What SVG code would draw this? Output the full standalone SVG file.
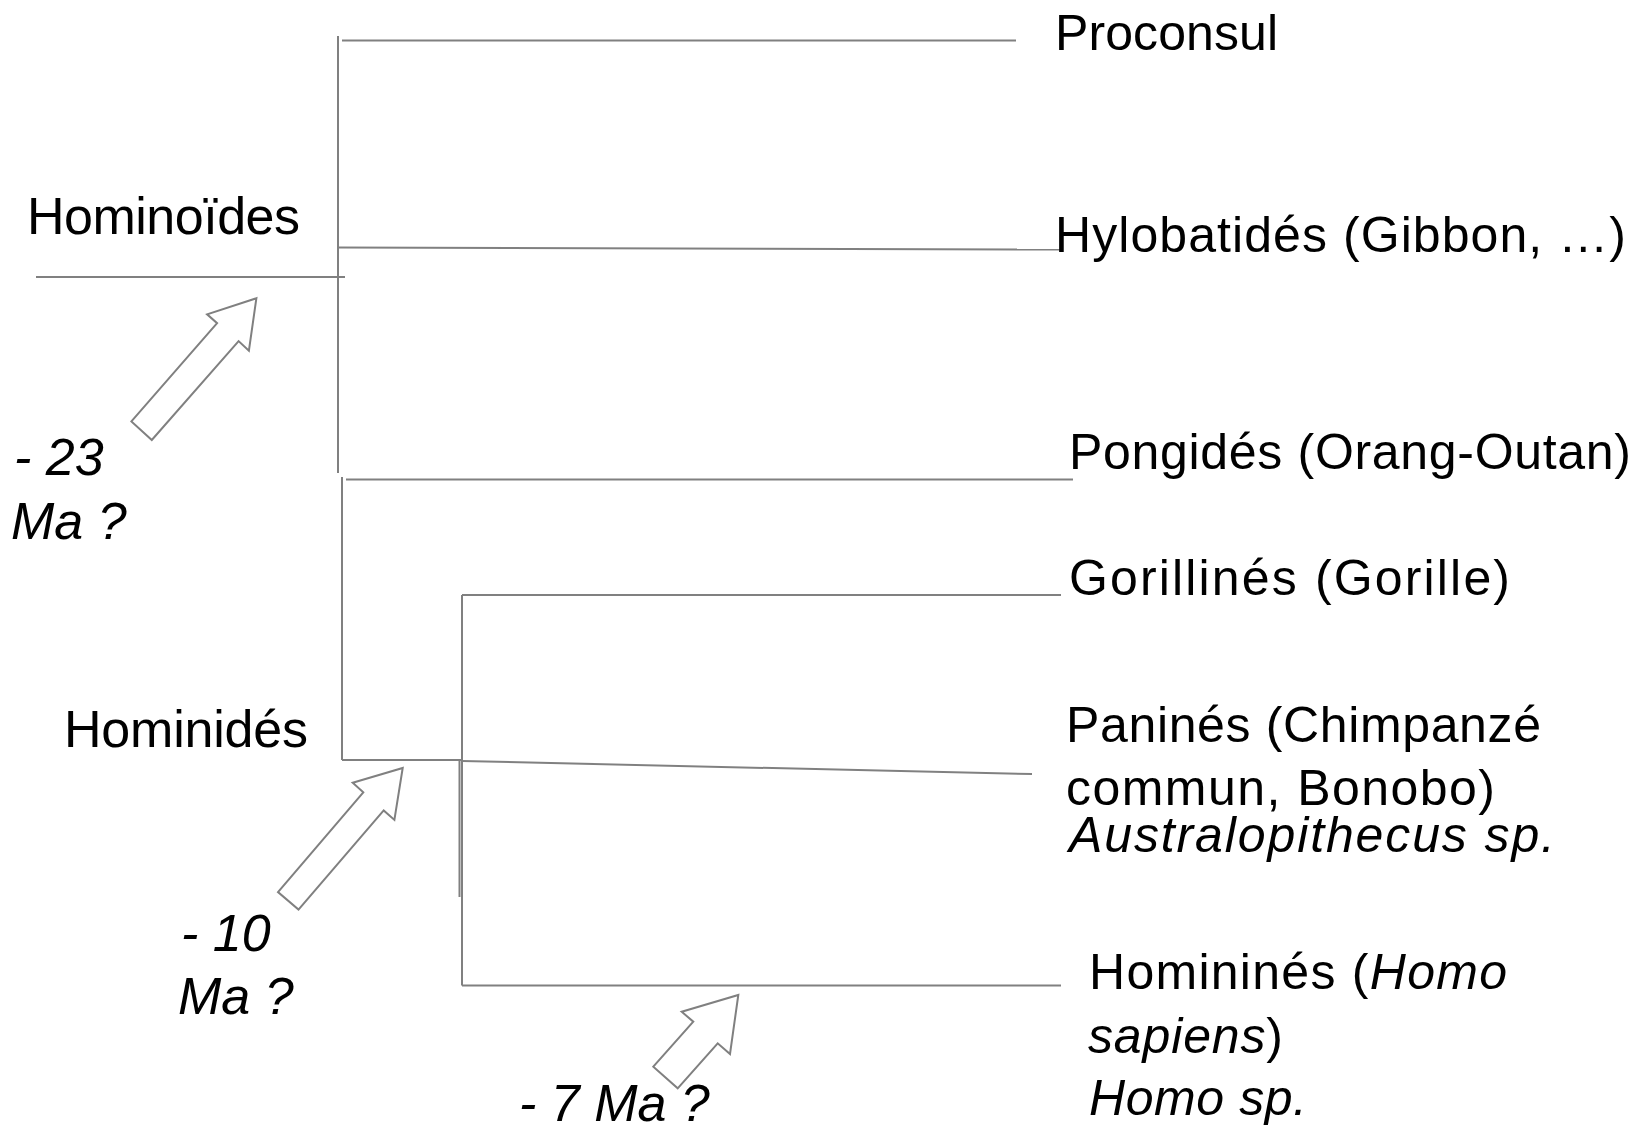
<svg xmlns="http://www.w3.org/2000/svg" width="1652" height="1132" viewBox="0 0 1652 1132">
  <style>
    .br { stroke: #808080; stroke-width: 2; fill: none; stroke-linecap: butt; }
    .arrow { stroke: #808080; stroke-width: 2; fill: #ffffff; stroke-linejoin: miter; }
    .lbl { font-family: "Liberation Sans", Arial, sans-serif; font-size: 50px; fill: #000000; }
    .grp { font-family: "Liberation Sans", Arial, sans-serif; font-size: 52px; fill: #000000; }
    .it { font-style: italic; }
  </style>
  <rect x="0" y="0" width="1652" height="1132" fill="#ffffff"/>

  <!-- tree branches -->
  <g id="connectors">
    <line class="br" x1="338" y1="36" x2="338" y2="473"/>
    <line class="br" x1="342" y1="40.5" x2="1016" y2="40.5"/>
    <line class="br" x1="338" y1="247.5" x2="1061" y2="249.5"/>
    <line class="br" x1="36" y1="277" x2="345" y2="277"/>
    <line class="br" x1="342" y1="477" x2="342" y2="760"/>
    <line class="br" x1="346" y1="479.5" x2="1073" y2="479.5"/>
    <line class="br" x1="342" y1="760" x2="462" y2="760"/>
    <line class="br" x1="462" y1="761" x2="1032" y2="774"/>
    <line class="br" x1="462" y1="595" x2="462" y2="985.5"/>
    <line class="br" x1="459.5" y1="761" x2="459.5" y2="897"/>
    <line class="br" x1="462" y1="595" x2="1061" y2="595"/>
    <line class="br" x1="462" y1="985.5" x2="1061" y2="985.5"/>
  </g>

  <!-- divergence arrows -->
  <g id="arrows">
    <polygon id="arrow-23" class="arrow" points="256.4,298.2 248.9,350.7 238.6,341.1 151.8,440 131.4,421.4 217.1,323.2 207.1,314.3"/>
    <polygon id="arrow-10" class="arrow" points="402.7,768 394.4,819.9 383.7,810.4 298.5,909.6 278,892.1 363.3,792.3 352.7,782.7"/>
    <polygon id="arrow-7" class="arrow" points="738.3,995 730,1054 717.7,1043.3 677.7,1088.3 653.3,1066.7 693.3,1021.7 681.7,1011.7"/>
  </g>

  <!-- clade names -->
  <g id="hominoides">
    <text class="grp" x="27" y="234" textLength="273">Hominoïdes</text>
  </g>
  <g id="hominides">
    <text class="grp" x="64" y="747" textLength="244">Hominidés</text>
  </g>

  <!-- dates -->
  <g id="date-23">
    <text class="grp it" x="14" y="475">- 23</text>
    <text class="grp it" x="11" y="539">Ma ?</text>
  </g>
  <g id="date-10">
    <text class="grp it" x="181" y="951">-  10</text>
    <text class="grp it" x="178" y="1014">Ma ?</text>
  </g>
  <g id="date-7">
    <text class="grp it" x="519" y="1121">- 7 Ma ?</text>
  </g>

  <!-- taxa -->
  <g id="proconsul">
    <text class="lbl" x="1055" y="49.5" textLength="223">Proconsul</text>
  </g>
  <g id="hylobatides">
    <text class="lbl" x="1055" y="252" textLength="571">Hylobatidés (Gibbon, …)</text>
  </g>
  <g id="pongides">
    <text class="lbl" x="1069" y="469" textLength="562">Pongidés (Orang-Outan)</text>
  </g>
  <g id="gorillines">
    <text class="lbl" x="1069" y="595" textLength="441">Gorillinés (Gorille)</text>
  </g>
  <g id="panines">
    <text class="lbl" x="1066" y="742" textLength="475">Paninés (Chimpanzé</text>
    <text class="lbl" x="1066" y="805" textLength="429">commun, Bonobo)</text>
    <text class="lbl it" x="1069" y="852" textLength="486">Australopithecus sp.</text>
  </g>
  <g id="hominines">
    <text class="lbl" x="1089" y="989" textLength="418">Homininés (<tspan class="it">Homo</tspan></text>
    <text class="lbl" x="1088" y="1053" textLength="195"><tspan class="it">sapiens</tspan>)</text>
    <text class="lbl it" x="1089" y="1115" textLength="218">Homo sp.</text>
  </g>
</svg>
